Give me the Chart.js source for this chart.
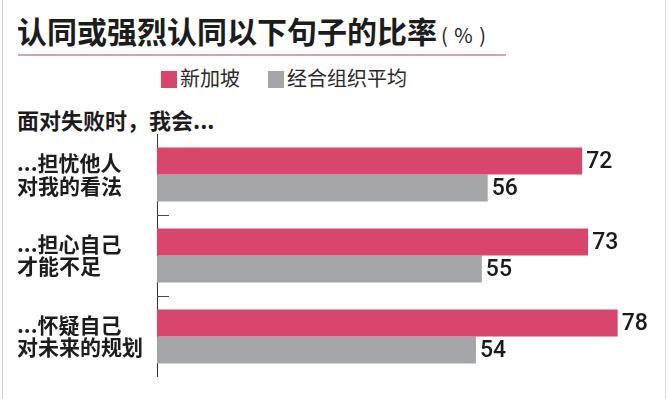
<!DOCTYPE html>
<html lang="zh">
<head>
<meta charset="UTF-8">
<title>认同或强烈认同以下句子的比率</title>
<script src="https://cdn.jsdelivr.net/npm/chart.js@4"></script>
<style>
  html, body { margin: 0; padding: 0; background: #fff; }
  .wrap {
    position: relative;
    width: 669px;
    height: 399px;
    overflow: hidden;
    font-family: "Noto Sans CJK SC", "Noto Sans", sans-serif;
    color: #1c1c1c;
  }
  .frame-l, .frame-r { position: absolute; top: 0; width: 1px; height: 399px; background: #d8d8d8; }
  .frame-l { left: 2px; }
  .frame-r { left: 665px; }
  .title {
    position: absolute; left: 17px; top: 13px;
    font-size: 30px; font-weight: 700; line-height: 34px; white-space: nowrap;
  }
  .title .unit { font-size: 20px; font-weight: 400; margin-left: 4px; letter-spacing: 1px; }
  .rule { position: absolute; left: 18px; top: 54px; width: 488px; height: 2px; background: #cfa6b0; }
  .legend { position: absolute; top: 66px; left: 0; height: 24px; }
  .legend span.item { position: absolute; top: 0; white-space: nowrap; font-size: 20px; line-height: 24px; color: #2a2a2a; }
  .legend i { display: inline-block; width: 16px; height: 17px; vertical-align: -2px; margin-right: 3px; }
  .sub {
    position: absolute; left: 17px; top: 105px;
    font-size: 22px; font-weight: 700; line-height: 28px; white-space: nowrap;
  }
  canvas { position: absolute; left: 0; top: 0; }
</style>
</head>
<body>
<div class="wrap">
  <div class="frame-l"></div>
  <div class="frame-r"></div>
  <div class="title">认同或强烈认同以下句子的比率<span class="unit">( % )</span></div>
  <div class="rule"></div>
  <div class="legend" id="legend"></div>
  <div class="sub">面对失败时，我会...</div>
  <canvas id="chart" width="669" height="399"></canvas>
</div>

<script>
  // 数据
  const categories = [
    ['...担忧他人', '对我的看法'],
    ['...担心自己', '才能不足'],
    ['...怀疑自己', '对未来的规划']
  ];
  const seriesNames = ['新加坡', '经合组织平均'];
  const singapore = [72, 73, 78];
  const oecdAverage = [56, 55, 54];

  const colors = ['#d9466b', '#a4a5a9'];
  const legendX = [161, 268];

  // 图例（HTML）
  const legend = document.getElementById('legend');
  seriesNames.forEach((name, i) => {
    const item = document.createElement('span');
    item.className = 'item';
    item.style.left = legendX[i] + 'px';
    item.innerHTML = '<i style="background:' + colors[i] + '"></i>' + name;
    legend.appendChild(item);
  });

  // 数值标签
  const valueLabels = {
    id: 'valueLabels',
    afterDatasetsDraw(chart) {
      const ctx = chart.ctx;
      ctx.save();
      ctx.font = '500 23px Roboto, "Liberation Sans", Arial, sans-serif';
      ctx.fillStyle = '#1a1a1a';
      ctx.textBaseline = 'middle';
      ctx.textAlign = 'left';
      chart.data.datasets.forEach((ds, di) => {
        chart.getDatasetMeta(di).data.forEach((bar, i) => {
          ctx.fillText(ds.data[i], bar.x + 4, bar.y + 1);
        });
      });
      ctx.restore();
    }
  };

  // 分隔短刻度
  const sepTicks = {
    id: 'sepTicks',
    afterDraw(chart) {
      const y = chart.scales.y;
      const ctx = chart.ctx;
      ctx.save();
      ctx.strokeStyle = '#444';
      ctx.lineWidth = 1;
      for (let i = 0; i < categories.length - 1; i++) {
        const py = Math.round((y.getPixelForValue(i) + y.getPixelForValue(i + 1)) / 2) + 0.5;
        ctx.beginPath();
        ctx.moveTo(chart.chartArea.left, py);
        ctx.lineTo(chart.chartArea.left + 12, py);
        ctx.stroke();
      }
      ctx.restore();
    }
  };

  new Chart(document.getElementById('chart'), {
    type: 'bar',
    data: {
      labels: categories,
      datasets: [
        { label: seriesNames[0], data: singapore, backgroundColor: colors[0] },
        { label: seriesNames[1], data: oecdAverage, backgroundColor: colors[1] }
      ]
    },
    options: {
      indexAxis: 'y',
      responsive: false,
      animation: false,
      events: [],
      layout: { padding: { left: 17, top: 134, bottom: 16, right: 10 } },
      datasets: {
        bar: { categoryPercentage: 0.665, barPercentage: 1.0 }
      },
      scales: {
        x: { display: false, min: 0, max: 85 },
        y: {
          afterFit(scale) { scale.width = 140; },
          grid: { display: false, drawTicks: false },
          border: { display: true, color: '#333', width: 1 },
          ticks: {
            crossAlign: 'far',
            padding: 0,
            color: '#1c1c1c',
            font: { family: '"Noto Sans CJK SC", sans-serif', size: 21, weight: 'bold', lineHeight: 1.05 }
          }
        }
      },
      plugins: {
        legend: { display: false },
        tooltip: { enabled: false }
      }
    },
    plugins: [valueLabels, sepTicks]
  });
</script>
</body>
</html>
